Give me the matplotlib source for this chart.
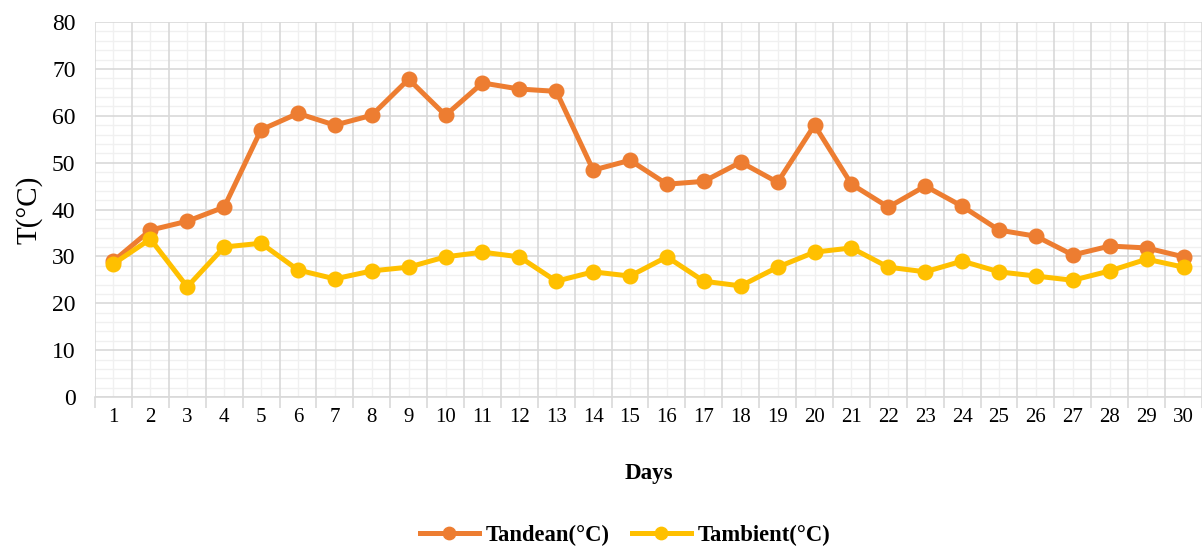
import matplotlib
matplotlib.use("Agg")
import matplotlib.pyplot as plt
from matplotlib.ticker import MultipleLocator, FixedLocator, NullFormatter

days = list(range(1, 31))
tandean = [29, 35.6, 37.5, 40.5, 57, 60.5, 58, 60.1, 67.8, 60.1,
           67, 65.7, 65.2, 48.4, 50.5, 45.4, 46, 50.1, 45.8, 58,
           45.4, 40.5, 45, 40.7, 35.6, 34.3, 30.3, 32.2, 31.8, 29.9]
tambient = [28.4, 33.7, 23.5, 32, 32.8, 27.1, 25.2, 26.9, 27.7, 29.9,
            30.9, 29.9, 24.7, 26.7, 25.8, 29.9, 24.7, 23.7, 27.7, 30.9,
            31.8, 27.7, 26.7, 29, 26.7, 25.8, 24.9, 26.9, 29.4, 27.7]
labels = ["Tandean(°C)", "Tambient(°C)"]

plt.rcParams['font.family'] = ['Liberation Serif', 'DejaVu Serif']

fig = plt.figure(figsize=(12.02, 5.46), dpi=100)
ax = fig.add_axes([95/1202, 1 - 397/546, (1202 - 95)/1202, (397 - 22)/546])

ax.plot(days, tandean, color='#ED7D31', lw=3.6, marker='o', ms=10.5, label=labels[0], zorder=3)
ax.plot(days, tambient, color='#FFC000', lw=3.6, marker='o', ms=10.5, label=labels[1], zorder=3)

ax.set_xlim(0.5, 30.5)
ax.set_ylim(0, 80)
ax.yaxis.set_major_locator(MultipleLocator(10))
ax.yaxis.set_minor_locator(MultipleLocator(2))
ax.xaxis.set_major_locator(FixedLocator(days))
ax.xaxis.set_minor_locator(FixedLocator([d + 0.5 for d in range(0, 31)]))
ax.xaxis.set_minor_formatter(NullFormatter())

ax.grid(False)
for y in range(0, 81, 10):
    ax.axhline(y, color='#d9d9d9', lw=1.2, zorder=1)
for y in range(2, 80, 2):
    if y % 10:
        ax.axhline(y, color='#f0f0f0', lw=1.0, zorder=0.5)
for b in [d + 0.5 for d in range(0, 31)]:
    ax.axvline(b, color='#d9d9d9', lw=1.2, zorder=1)
for d in days:
    ax.axvline(d, color='#f0f0f0', lw=1.0, zorder=0.5)

for s in ['top', 'right', 'left']:
    ax.spines[s].set_visible(False)
ax.spines['bottom'].set_color('#d9d9d9')
ax.spines['bottom'].set_linewidth(1.2)

ax.tick_params(axis='x', which='major', length=0, pad=8, labelsize=15, colors='black')
ax.tick_params(axis='x', which='minor', length=8, width=1.2, color='#d9d9d9')
ax.tick_params(axis='y', which='both', length=0, pad=14, labelsize=17)

ax.set_ylabel("T(°C)", fontsize=21, labelpad=7)
ax.set_xlabel("Days", fontsize=16.5, fontweight='bold', labelpad=26)

leg = fig.legend(loc='center', bbox_to_anchor=(625/1202, 1 - 535/546), ncol=2,
                 frameon=False, prop={'size': 16.3, 'weight': 'bold'},
                 handlelength=2.6, columnspacing=1.0, handletextpad=0.3,
                 markerscale=0.85)

fig.savefig("out.png", dpi=100)
